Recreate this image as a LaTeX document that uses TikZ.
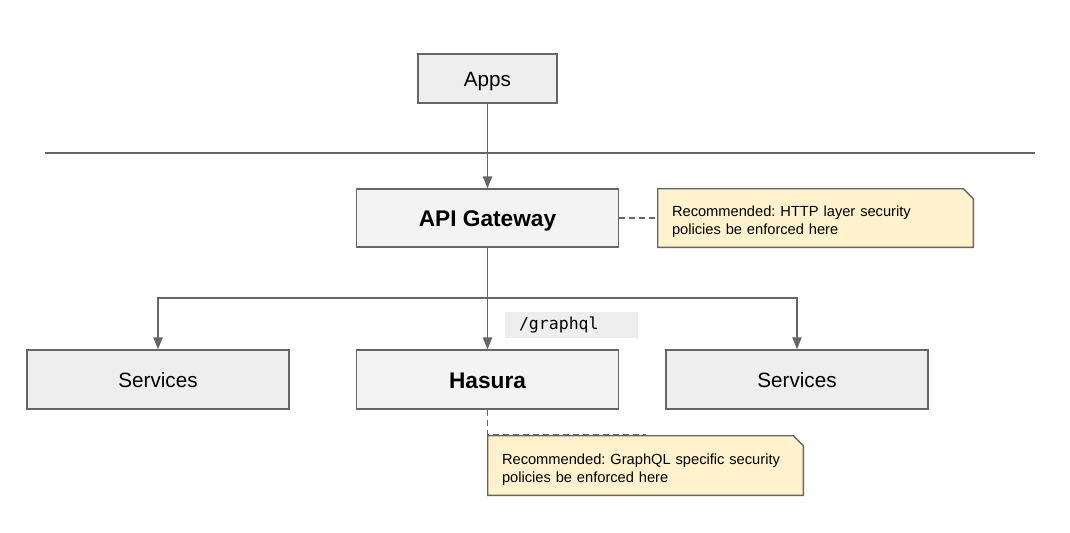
\documentclass[tikz,border=0pt]{standalone}
\usepackage{fontspec}
\setmainfont{Liberation Sans}
\setmonofont{DejaVu Sans Mono}
\frenchspacing
\usetikzlibrary{arrows.meta,positioning,backgrounds}
\definecolor{edgegray}{HTML}{666666}
\definecolor{boxgray}{HTML}{EEEEEE}
\definecolor{notefill}{HTML}{FFF2CC}
\definecolor{tagfill}{HTML}{EEEEEE}
\tikzset{
    %Define standard arrow tip
    >={Triangle[length=9pt,width=7pt]},
    line width=1pt,
    block/.style={
      rectangle,
      draw=edgegray, line width=1.1pt,
      fill=boxgray,
      minimum width=196.5pt,
      minimum height=44.25pt,
      text height=11.5pt, text depth=0pt,
      font=\fontsize{15.5}{18}\selectfont,
      text centered},
    keyblock/.style={
      block,
      fill=boxgray!70,
      text height=13pt,
      font=\fontsize{17}{20}\selectfont\bfseries},
    memo/.style={
      rectangle,
      inner xsep=10.5pt,
      minimum width=236.25pt,
      minimum height=43.5pt,
      text width=215.25pt,
      align=left,
      execute at begin node={\rule{0pt}{14pt}},
      font=\fontsize{11}{13.5}\selectfont},
    memoline/.style={
      draw=edgegray, line width=1.1pt,
      fill=notefill},
    tag/.style={
      rectangle,
      fill=tagfill,
      inner xsep=10.5pt,
      minimum width=99.75pt,
      minimum height=18pt,
      text width=78.75pt,
      align=left,
      font=\fontsize{12.4}{14}\selectfont\ttfamily},
    link/.style={draw=edgegray, line width=1.1pt},
    hint/.style={draw=edgegray, line width=1.1pt, dash pattern=on 4.5pt off 3pt},
}
\begin{document}
\begin{tikzpicture}[x=0.75pt,y=-0.75pt]
    \useasboundingbox (0,0) rectangle (1070,532);
    \node (apps) [block, minimum width=104.25pt, minimum height=36.75pt]
          at (487.5,78.5) {Apps};
    \node (api) [keyblock, minimum height=43.5pt]
          at (487.5,218) {API Gateway};
    \node (hasura) [keyblock]
          at (487.5,379.5) {Hasura};
    \node (svcl) [block]
          at (158,379.5) {Services};
    \node (svcr) [block]
          at (797,379.5) {Services};
    \node (notea) [memo]
          at (815.5,218) {Recommended: HTTP layer security\\policies be enforced here};
    \node (noteb) [memo, minimum height=44.25pt]
          at (645.5,465.5) {Recommended: GraphQL specific security\\policies be enforced here};
    \node (path) [tag]
          at (571.5,325) {/graphql};
    % folded corner of the notes
    \begin{scope}[on background layer]
      \foreach \n in {notea,noteb}
        \draw [memoline] (\n.south west) -- (\n.north west)
              -- ([xshift=-7.5pt]\n.north east) -- ([yshift=-7.5pt]\n.north east)
              -- (\n.south east) -- cycle;
    \end{scope}
    % boundary
    \coordinate (edgel) at (45,153);
    \coordinate (edger) at (1035,153);
    \draw [link] (edgel) -- (edger);
    % connectors
    \coordinate (fork) at (487.5,298);
    \draw [link,->] (apps) -- (api);
    \draw [link] (api) -- (fork);
    \draw [link,->] (fork) -| (svcl.north);
    \draw [link,->] (fork) -- (hasura);
    \draw [link,->] (fork) -| (svcr.north);
    \draw [hint] (api) -- (notea);
    \draw [hint] (hasura.south) -- ++(0,24.5) -| (noteb.north);
\end{tikzpicture}
\end{document}
